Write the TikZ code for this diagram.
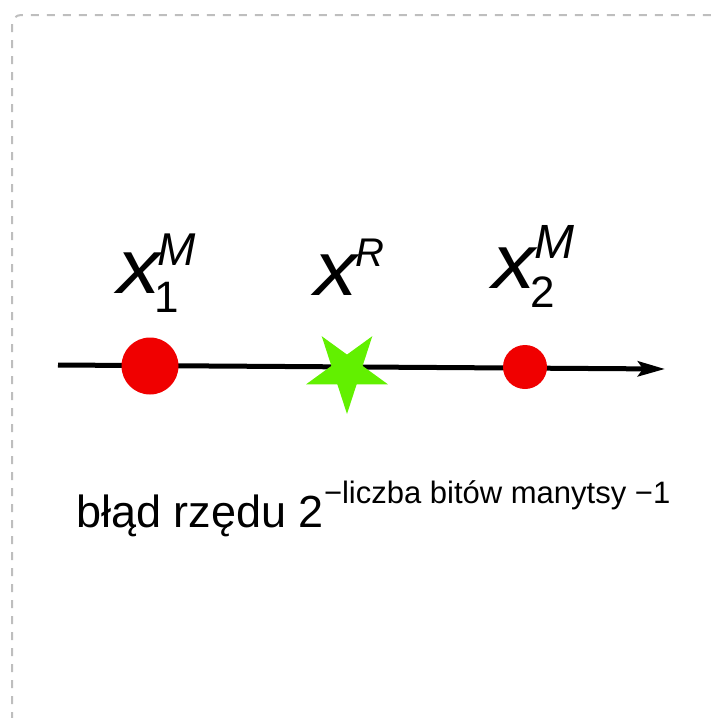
\documentclass[tikz,border=0pt]{standalone}
\usepackage{fontspec}
\setmainfont{Liberation Sans}
\usetikzlibrary{arrows.meta,shapes.geometric}
\definecolor{ptred}{RGB}{240,0,0}
\definecolor{ptgreen}{RGB}{98,240,0}
\definecolor{frame}{RGB}{190,190,190}
\newcommand{\widex}{\scalebox{1.12}[1]{x}}
\tikzset{
  txt/.style={inner sep=0pt, outer sep=0pt, anchor=base west},
  big/.style={txt, font=\fontsize{77}{77}\selectfont\itshape},
  supit/.style={txt, font=\fontsize{46}{46}\selectfont\itshape},
  supsmall/.style={txt, font=\fontsize{40}{40}\selectfont\itshape},
  subup/.style={txt, font=\fontsize{44}{44}\selectfont},
  mainfont/.style={txt, font=\fontsize{45}{45}\selectfont},
  expfont/.style={txt, font=\fontsize{31}{31}\selectfont},
  dot/.style={circle, fill=ptred, draw=none, inner sep=0pt},
  starmark/.style={star, star points=5, star point ratio=2.618, shape border rotate=180,
    fill=ptgreen, draw=none, inner sep=0pt, minimum size=86pt},
  axis/.style={line width=5pt, -{Stealth[length=27pt,width=15pt,inset=5pt]}},
}
\begin{document}
\begin{tikzpicture}[x=1pt, y=-1pt]
\useasboundingbox (0,0) rectangle (715,718);
% dashed frame (extends beyond the picture)
\draw[frame, line width=2pt, dash pattern=on 8pt off 8pt, rounded corners=9pt]
  (12,800) -- (12,15) -- (800,15);
% axis
\coordinate (axL) at (58,365);
\coordinate (axR) at (665,369);
\draw[axis] (axL) -- (axR);
% points
\node[dot, minimum size=57pt] (p1) at (150,366) {};
\node[starmark] (s) at (347,371) {};
\node[dot, minimum size=44pt] (p2) at (525,367) {};
% labels
\node[big] (x1) at (117,293) {\widex};
\node[supit] (x1sup) at (157,265) {M};
\node[subup] (x1sub) at (154,312) {1};
\node[big] (xr) at (314,295) {\widex};
\node[supsmall] (xrsup) at (355,266) {R};
\node[big] (x2) at (492,288) {\widex};
\node[supit, font=\fontsize{48}{48}\selectfont\itshape] (x2sup) at (534,258) {M};
\node[subup] (x2sub) at (530,307) {2};
% error text
\node[mainfont] (err) at (76,527) {błąd rzędu 2};
\node[expfont] (errexp) at (324,503) {−liczba bitów manytsy −1};
\end{tikzpicture}
\end{document}
